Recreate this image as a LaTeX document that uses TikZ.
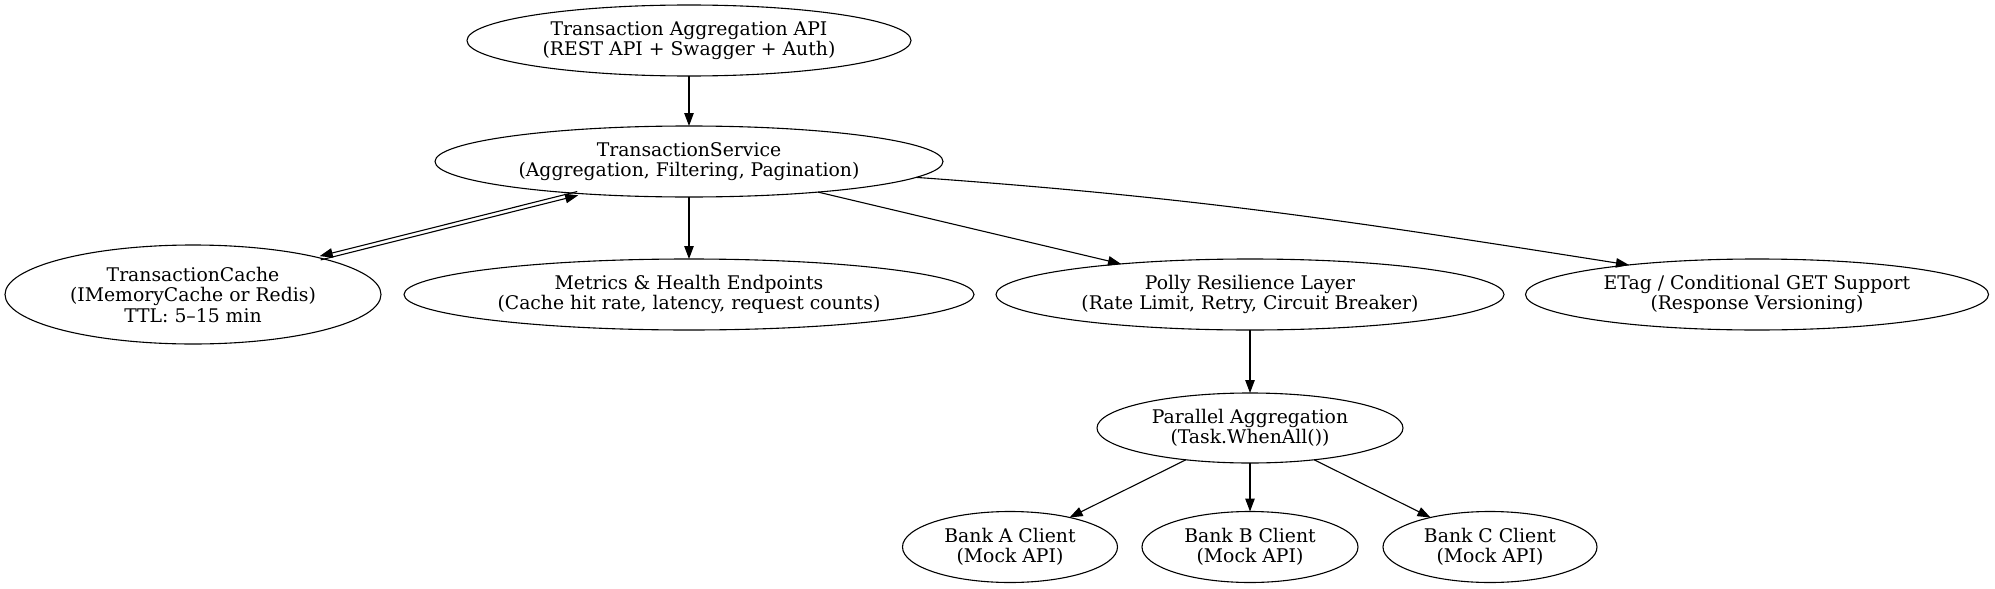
\documentclass[tikz,border=0pt]{standalone}
\usepackage{fontspec}
\setmainfont{DejaVu Serif}
\usetikzlibrary{shapes.geometric,arrows.meta}
\begin{document}
\begin{tikzpicture}[x=1pt,y=-1pt,
  box/.style={ellipse,draw,line width=1.1pt,inner sep=0pt,outer sep=0pt,
    align=center,font=\fontsize{18.8}{20.5}\selectfont},
  arr/.style={-{Triangle[length=13pt,width=9.5pt]},line width=1.1pt}]
\useasboundingbox (0,0) rectangle (1995,589);
\node[box,minimum width=444pt,minimum height=71pt] (api) at (689,40.5)
  {Transaction Aggregation API\\(REST API + Swagger + Auth)};
\node[box,minimum width=508pt,minimum height=71pt] (svc) at (689,161.5)
  {TransactionService\\(Aggregation, Filtering, Pagination)};
\node[box,minimum width=376pt,minimum height=99pt] (cache) at (193,294.5)
  {TransactionCache\\(IMemoryCache or Redis)\\TTL: 5--15 min};
\node[box,minimum width=570pt,minimum height=71pt] (met) at (689,294.5)
  {Metrics \& Health Endpoints\\(Cache hit rate, latency, request counts)};
\node[box,minimum width=508pt,minimum height=71pt] (polly) at (1250,294.5)
  {Polly Resilience Layer\\(Rate Limit, Retry, Circuit Breaker)};
\node[box,minimum width=463pt,minimum height=71pt] (etag) at (1757,294.5)
  {ETag / Conditional GET Support\\(Response Versioning)};
\node[box,minimum width=306pt,minimum height=70pt] (par) at (1250,428)
  {Parallel Aggregation\\(Task.WhenAll())};
\node[box,minimum width=215pt,minimum height=71pt] (ba) at (1010,547)
  {Bank A Client\\(Mock API)};
\node[box,minimum width=216pt,minimum height=71pt] (bb) at (1250,547)
  {Bank B Client\\(Mock API)};
\node[box,minimum width=214pt,minimum height=71pt] (bc) at (1490,547)
  {Bank C Client\\(Mock API)};

\draw[arr] (api) -- (svc);
\draw[arr] ([xshift=-0.5pt,yshift=1.9pt]svc.196) -- ([xshift=-0.5pt,yshift=1.9pt]cache.16.5);
\draw[arr] ([xshift=0.5pt,yshift=-1.9pt]cache.16.5) -- ([xshift=0.5pt,yshift=-1.9pt]svc.196);
\draw[arr] (svc) -- (met);
\draw[arr] (svc) -- (polly);
\draw[arr] (svc.-4.7) .. controls +(281,20) and +(-279,-44) .. (etag.167.7);
\draw[arr] (polly) -- (par);
\draw[arr] (par) -- (ba);
\draw[arr] (par) -- (bb);
\draw[arr] (par) -- (bc);
\end{tikzpicture}
\end{document}
